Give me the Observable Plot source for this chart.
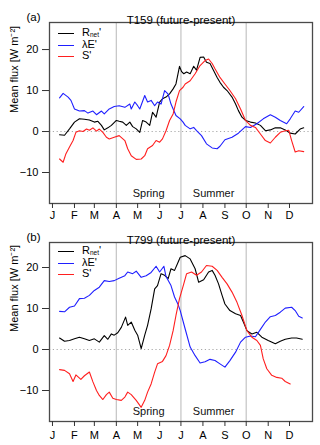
<!DOCTYPE html>
<html><head><meta charset="utf-8">
<script src="https://cdn.jsdelivr.net/npm/d3@7"></script>
<script src="https://cdn.jsdelivr.net/npm/@observablehq/plot@0.6"></script>
<style>
html,body{margin:0;padding:0;background:#fff;}
#wrap{position:relative;width:320px;height:445px;font-family:"Liberation Sans",Arial,sans-serif;}
.panel{position:relative;width:320px;}
.legend{position:absolute;left:0;top:0;font-size:11px;color:#000;}
.row{position:absolute;white-space:nowrap;}
.sw{position:absolute;left:0;width:16px;height:0;}
.lab{position:absolute;left:24px;top:-6px;line-height:10px;height:10px;}
sub{font-size:6.5px;vertical-align:-1px;line-height:0;}
</style>
</head><body><div id="wrap"></div>
<script>
// ---- axis / annotation data ----
const monthStarts = [0,31,59,90,120,151,181,212,243,273,304,334];
const monthLabels = ["J","F","M","A","M","J","J","A","S","O","N","D"];
const yTicks = [-10,0,10,20];
const seasonBounds = [90,181,273];
const seasonNames = ["Spring","Summer"];
const seasonMids = [135.5,227];
const seriesColors = ["#000000","#1f1fff","#ff1f1f"];

// ---- panel (a) T159 ----
const aRnetDays = [10,17,24,31,38,45,52,59,64,69,73,78,83,90,94,99,104,109,113,118,123,127,132,137,141,146,151,155,160,165,170,174,179,182,185,189,194,199,203,208,213,217,222,227,232,236,241,246,253,258,262,267,272,279,286,293,300,307,314,321,328,335,342,349,354];
const aRnetVals = [-0.8,-0.9,0.65,2.3,3.1,3.0,2.8,2.3,2.5,1.5,0.4,0.9,1.5,2.7,2.5,2.3,1.5,2.3,1.2,0.65,-0.2,2.7,2.3,1.5,4.7,3.5,7.2,8.0,8.4,9.2,10.4,11.6,15.9,14.6,14.1,14.5,14.1,15.9,15.0,18.1,18.2,16.9,16.6,14.9,13.2,12.0,10.8,10.0,8.4,6.7,5.1,3.5,2.7,2.3,2.1,1.5,0.2,0.4,0.9,0.9,0.4,-0.4,-0.6,0.6,0.9];
const aLEDays = [10,15,22,26,31,38,45,50,57,62,69,73,80,87,94,102,109,111,116,120,123,130,134,139,144,148,153,158,163,167,174,180,184,187,194,199,203,210,217,225,232,236,243,253,262,272,279,288,297,307,314,321,330,335,342,347,354];
const aLEVals = [8.2,9.3,8.4,7.6,5.5,5.0,5.1,4.5,5.0,4.1,5.0,4.3,5.5,6.1,6.3,5.9,6.7,5.5,7.2,6.3,5.5,8.8,7.2,7.6,6.3,7.2,6.7,10.0,9.1,6.7,3.9,3.1,2.3,1.5,0.65,1.0,0.24,-1.0,-3.0,-4.0,-4.2,-3.6,-2.0,-1.4,-0.4,1.2,1.0,1.9,3.1,4.1,3.5,2.7,1.9,3.1,5.0,4.7,6.1];
const aSDays = [10,15,19,24,29,33,38,43,48,52,57,62,66,71,76,80,87,94,102,106,111,118,125,130,134,141,146,151,155,160,165,170,174,179,184,187,194,201,208,215,220,225,229,236,243,250,258,265,272,279,286,293,300,307,314,321,328,333,337,342,347,354];
const aSVals = [-6.7,-7.5,-5.4,-3.8,-2.2,-0.2,0.2,0.0,0.6,0.3,0.9,0.1,0.6,-0.2,-1.4,-1.8,-1.4,-1.0,-2.2,-4.2,-5.9,-6.8,-6.7,-5.9,-4.2,-3.4,-2.2,-2.6,-1.8,0.2,2.7,4.3,7.2,10.0,10.8,11.6,12.4,14.1,16.1,17.3,17.7,16.6,15.3,13.2,11.6,10.0,8.0,5.5,2.7,1.5,1.0,-0.6,-2.2,-2.8,-1.4,-0.2,0.2,0.3,-2.2,-5.0,-4.7,-4.9];

// ---- panel (b) T799 ----
const bRnetDays = [10,17,24,31,38,45,52,59,66,73,78,83,87,92,97,103,106,111,116,120,125,130,134,139,144,148,153,158,163,167,172,177,180,187,194,201,206,213,220,225,229,234,239,243,250,258,265,269,274,281,288,295,304,314,321,328,337,344,352];
const bRnetVals = [2.8,2.0,2.2,2.6,3.0,2.6,2.2,2.6,1.8,3.4,2.5,3.8,3.5,4.1,5.4,7.9,5.9,6.7,4.7,3.5,0.2,3.5,5.9,9.9,14.8,15.6,18.5,18.1,17.3,19.7,19.3,21.3,22.5,22.9,22.1,19.7,16.4,17.0,18.9,19.3,18.1,16.0,13.2,11.1,9.5,8.7,8.3,6.7,4.6,3.8,4.2,3.0,2.2,1.4,2.0,2.5,2.8,2.8,2.5];
const bLEDays = [10,17,24,31,38,45,52,59,66,73,80,87,94,102,106,113,118,125,132,139,146,151,157,160,167,172,177,180,187,194,201,208,215,222,229,236,243,250,258,265,272,279,286,293,300,307,314,321,328,337,342,347,352];
const bLEVals = [9.3,9.2,10.3,10.6,12.4,12.5,13.2,14.4,15.2,16.8,16.6,16.8,17.4,18.0,18.9,18.5,19.1,17.6,18.0,18.8,20.3,18.9,20.3,17.8,15.6,12.8,11.0,9.5,5.0,0.6,-1.5,-3.3,-3.0,-2.4,-2.7,-3.5,-4.3,-2.7,-0.65,1.8,3.0,3.3,3.1,4.9,6.7,8.0,8.3,9.1,10.1,10.3,9.5,8.1,7.7];
const bSDays = [10,17,24,29,33,40,45,52,57,62,66,71,76,80,85,90,97,102,106,111,118,125,130,134,139,144,148,155,160,165,170,174,179,185,189,196,203,210,217,225,232,239,246,253,260,267,274,281,288,293,297,302,309,316,323,328,335];
const bSVals = [-4.9,-5.1,-5.9,-7.8,-6.2,-7.3,-6.4,-5.5,-7.9,-10.0,-11.2,-12.2,-11.0,-10.4,-11.9,-12.2,-12.4,-11.6,-10.4,-11.0,-12.4,-14.1,-12.4,-10.4,-8.4,-5.5,-3.5,-2.9,-1.5,1.0,4.6,8.3,12.4,16.0,18.5,18.9,18.1,18.9,20.5,20.3,19.3,17.6,16.0,14.0,11.5,8.3,4.6,3.0,2.2,1.0,-2.3,-4.7,-6.3,-6.8,-7.0,-7.8,-8.4];

const panels = [
  {tag:"(a)", title:"T159 (future-present)", height:222, mt:22, mb:19, yDomain:[-17.56,26.6], xPad:3, legendTop:33,
   series:[[aRnetDays,aRnetVals],[aLEDays,aLEVals],[aSDays,aSVals]]},
  {tag:"(b)", title:"T799 (future-present)", height:223, mt:20, mb:24, yDomain:[-17.56,26.1], xPad:5, legendTop:29,
   series:[[bRnetDays,bRnetVals],[bLEDays,bLEVals],[bSDays,bSVals]]}
];
const legendLabels = ["R<sub>net</sub>'","λE'","S'"];

const wrap = document.getElementById("wrap");
for (const p of panels) {
  const div = document.createElement("div");
  div.className = "panel";
  div.style.height = p.height + "px";
  const lines = p.series.map(([days, vals], i) =>
    Plot.line(d3.zip(days, vals), {x: d => d[0], y: d => d[1], stroke: seriesColors[i], strokeWidth: 1.1}));
  const chart = Plot.plot({
    width: 320, height: p.height,
    marginLeft: 49, marginRight: 8, marginTop: p.mt, marginBottom: p.mb,
    style: {fontFamily: '"Liberation Sans", Arial, sans-serif', fontSize: "11px", background: "#fff", color: "#000"},
    x: {domain: [-4.2, 366.4]},
    y: {domain: p.yDomain},
    marks: [
      Plot.ruleX(seasonBounds, {stroke: "#c8c8c8", strokeWidth: 1.3}),
      Plot.ruleY([0], {stroke: "#a8a8a8", strokeDasharray: "1.2,2.6", strokeWidth: 1}),
      ...lines,
      Plot.text(seasonNames, {x: seasonMids, frameAnchor: "bottom", dy: -7, fontSize: 11, fill: "#111"}),
      Plot.frame({stroke: "#4a4a4a", strokeWidth: 1.3}),
      Plot.axisY({ticks: yTicks, tickSize: 7, tickPadding: 4, label: null, stroke: "#333", fontSize: 11}),
      Plot.axisX({ticks: monthStarts, tickFormat: (d) => monthLabels[monthStarts.indexOf(d)], tickSize: 5, tickPadding: p.xPad, label: null, stroke: "#333", fontSize: 11}),
      Plot.text([p.title], {frameAnchor: "top", dy: -7, fontSize: 11.5}),
      Plot.text([p.tag], {frameAnchor: "top-left", dx: -23, dy: -10, fontSize: 11.5}),
      Plot.text(["Mean flux [W m⁻²]"], {frameAnchor: "left", dx: -35, rotate: -90, fontSize: 11})
    ]
  });
  div.appendChild(chart);
  const leg = document.createElement("div");
  leg.className = "legend";
  legendLabels.forEach((lab, i) => {
    const r = document.createElement("div");
    r.className = "row";
    r.style.left = "58px";
    r.style.top = (p.legendTop + i * 11.5) + "px";
    r.innerHTML = `<span class="sw" style="border-top:1.2px solid ${seriesColors[i]}"></span><span class="lab">${lab}</span>`;
    leg.appendChild(r);
  });
  div.appendChild(leg);
  wrap.appendChild(div);
}
</script></body></html>
